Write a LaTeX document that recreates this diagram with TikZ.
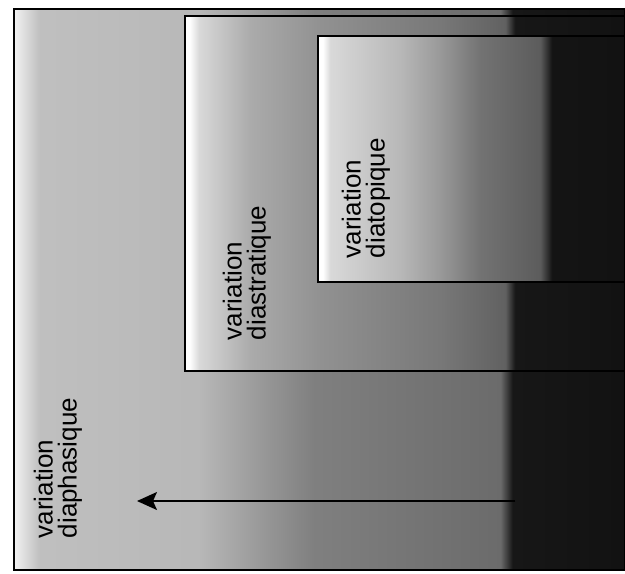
\documentclass[tikz,border=0pt]{standalone}
\usepackage{fontspec}
\setmainfont{Liberation Sans}
\usetikzlibrary{arrows.meta}
\pgfdeclarehorizontalshading{outershade}{100bp}{color(0bp)=(black!5); color(25bp)=(black!5); color(27.1bp)=(black!25); color(40.2bp)=(black!28); color(44.3bp)=(black!38); color(49.5bp)=(black!50); color(64.8bp)=(black!58); color(65.8bp)=(black!91); color(75bp)=(black!93); color(100bp)=(black!93)}
\pgfdeclarehorizontalshading{stratshade}{100bp}{color(0bp)=(white); color(25.5bp)=(white); color(26.6bp)=(black!15); color(32.4bp)=(black!33); color(40.3bp)=(black!43); color(54bp)=(black!53); color(61.4bp)=(black!62); color(62.5bp)=(black!91); color(75bp)=(black!93); color(100bp)=(black!93)}
\pgfdeclarehorizontalshading{toposhade}{100bp}{color(0bp)=(white); color(25.8bp)=(white); color(27bp)=(black!15); color(38.4bp)=(black!28); color(44.9bp)=(black!40); color(51.4bp)=(black!55); color(61.2bp)=(black!64); color(63.1bp)=(black!92); color(75bp)=(black!93); color(100bp)=(black!93)}

\begin{document}
\begin{tikzpicture}[x=0.5pt, y=-0.5pt, >={Stealth[length=10pt, width=9pt, inset=2pt]}]
			\tikzstyle{frame} = [draw, line width=1.1pt]
			\tikzstyle{varlabel} = [rotate=90, anchor=north west, inner sep=0pt, align=left, font=\fontsize{13}{12}\selectfont]
			\useasboundingbox (0,0) rectangle (625,573);
			\shadedraw[frame, shading=outershade] (14,9) rectangle (625,570);
			\shadedraw[frame, shading=stratshade] (185,16) rectangle (625,371);
			\shadedraw[frame, shading=toposhade] (318,36) rectangle (625,282);
			\begin{scope}
			\path[->, line width=0.8pt]

			node[varlabel] (diaphasique) at (33,539) {variation\\diaphasique}
			node[varlabel] (diastratique) at (222,341) {variation\\diastratique}
			node[varlabel] (diatopique) at (341,259) {variation\\diatopique}
			coordinate (tail) at (515,501)
			coordinate (tip) at (137,501)

			(tail) edge (tip)
			;
			\end{scope}

			\end{tikzpicture}
\end{document}
